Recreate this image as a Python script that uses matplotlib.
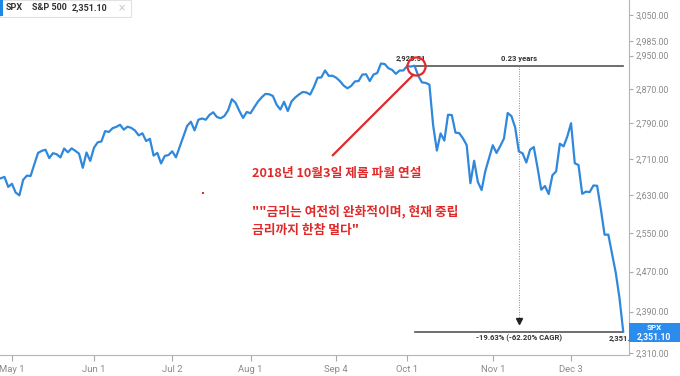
import matplotlib
matplotlib.use("Agg")
import matplotlib.pyplot as plt
import matplotlib.patches as mpatches
import pandas as pd
import numpy as np

# ---- data: S&P 500 daily closes (Apr 26 - Dec 24, 2018) ----
closes = [
    2666.94, 2669.91, 2648.05,
    # May
    2654.80, 2635.67, 2629.73, 2663.42, 2672.63, 2671.92, 2697.79, 2723.07, 2727.72,
    2730.13, 2711.45, 2722.46, 2720.13, 2712.97, 2733.01, 2724.44, 2733.29, 2727.76,
    2721.33, 2689.86, 2724.01, 2705.27,
    # Jun
    2734.62, 2746.87, 2748.80, 2772.35, 2770.37, 2779.03, 2782.00, 2786.85, 2775.63,
    2782.49, 2779.66, 2773.75, 2762.59, 2767.32, 2749.76, 2754.88, 2717.07, 2723.06,
    2699.63, 2716.31, 2718.37,
    # Jul
    2726.71, 2713.22, 2736.61, 2759.82, 2784.17, 2793.84, 2774.02, 2798.29, 2801.31,
    2798.43, 2809.55, 2815.62, 2804.49, 2801.83, 2806.98, 2820.40, 2846.07, 2837.44,
    2818.82, 2802.60, 2816.29,
    # Aug
    2813.36, 2827.22, 2840.35, 2850.40, 2858.45, 2857.70, 2853.58, 2833.28, 2821.93,
    2839.96, 2818.37, 2840.69, 2850.13, 2857.05, 2862.96, 2861.82, 2856.98, 2874.69,
    2896.74, 2897.52, 2914.04, 2901.13, 2901.52,
    # Sep
    2896.72, 2888.60, 2878.05, 2871.68, 2877.13, 2887.89, 2888.92, 2904.18, 2904.98,
    2888.80, 2904.31, 2907.95, 2930.75, 2929.67, 2919.37, 2915.56, 2905.97, 2914.00,
    2913.98,
    # Oct
    2924.59, 2923.43, 2925.51, 2901.61, 2885.57, 2884.43, 2880.34, 2785.68, 2728.37,
    2767.13, 2750.79, 2809.92, 2809.21, 2768.78, 2767.78, 2755.88, 2740.69, 2656.10,
    2705.57, 2658.69, 2641.25, 2682.63, 2711.74,
    # Nov
    2740.37, 2723.06, 2738.31, 2755.45, 2813.89, 2806.83, 2781.01, 2726.22, 2722.18,
    2701.58, 2730.20, 2736.27, 2690.73, 2641.89, 2649.93, 2632.56, 2673.45, 2682.17,
    2743.79, 2737.80, 2760.17,
    # Dec
    2790.37, 2700.06, 2695.95, 2633.08, 2637.72, 2636.78, 2651.07, 2650.54, 2599.95,
    2545.94, 2546.16, 2506.96, 2467.42, 2416.62, 2351.10,
]
holidays = ["2018-05-28", "2018-07-04", "2018-09-03", "2018-11-22", "2018-12-05"]
dates = [d for d in pd.bdate_range("2018-04-26", "2018-12-24") if d.strftime("%Y-%m-%d") not in holidays]
assert len(dates) == len(closes)

xtick_dates = ["2018-05-01", "2018-06-01", "2018-07-02", "2018-08-01",
               "2018-09-04", "2018-10-01", "2018-11-01", "2018-12-03"]
xtick_labels = ["May 1", "Jun 1", "Jul 2", "Aug 1", "Sep 4", "Oct 1", "Nov 1", "Dec 3"]
ytick_values = [3050, 2985, 2950, 2870, 2790, 2710, 2630, 2550, 2470, 2390, 2310]

peak_date = "2018-10-03"
peak_value = 2925.51
last_value = closes[-1]

date_str = [d.strftime("%Y-%m-%d") for d in dates]
x = np.arange(len(closes))
peak_i = date_str.index(peak_date)
last_i = len(closes) - 1

W, H = 680, 376
fig = plt.figure(figsize=(W / 100, H / 100), dpi=100)
ax = fig.add_axes([0, 1 - 355 / H, 629 / W, 355 / H])

blue = "#3088dc"
ax.plot(x, closes, color=blue, lw=1.6, zorder=3)

ax.set_yscale("log")
ax.set_ylim(2306.2, 3087.9)
ax.set_xlim(-0.21, 168.55)
ax.minorticks_off()
ax.yaxis.tick_right()
ax.set_yticks(ytick_values)
ax.set_yticklabels([f"{v:,.2f}" for v in ytick_values])
ax.set_xticks([date_str.index(d) for d in xtick_dates])
ax.set_xticklabels(xtick_labels)
ax.minorticks_off()
ax.tick_params(axis="y", which="both", length=3, color="#aaaaaa", labelcolor="#8a8a8a",
               labelsize=6.3, pad=2)
ax.tick_params(axis="x", length=4, color="#aaaaaa", labelcolor="#8a8a8a", labelsize=6.8, pad=3)
for lab in ax.get_xticklabels() + ax.get_yticklabels():
    lab.set_fontfamily("Roboto")
for s in ["top", "left"]:
    ax.spines[s].set_visible(False)
for s in ["right", "bottom"]:
    ax.spines[s].set_color("#b5b5b5")
    ax.spines[s].set_linewidth(0.8)

# measurement lines
gray = "#555555"
ax.plot([peak_i, last_i], [peak_value, peak_value], color=gray, lw=1.2, zorder=2)
ax.plot([peak_i, last_i], [last_value, last_value], color=gray, lw=1.2, zorder=2)
mid = (peak_i + last_i) / 2
ax.plot([mid, mid], [peak_value, last_value * 1.006], color="#888888", lw=0.7, ls=(0, (1, 1.5)), zorder=2)
ax.plot(mid, last_value * 1.009, marker="v", color="#222222", ms=4.5, zorder=4)

lbl = dict(fontsize=5.5, fontweight="bold", color="#333333", family="Roboto")
ax.text(peak_i - 1, peak_value * 1.003, f"{peak_value:,.2f}", ha="center", va="bottom", **lbl)
ax.text(mid, peak_value * 1.003, "0.23 years", ha="center", va="bottom", **lbl)
ax.text(mid, last_value * 0.9975, "-19.63% (-62.20% CAGR)", ha="center", va="top", **lbl)
ax.text(last_i + 2, last_value * 0.9975, "2,351.", ha="right", va="top", **lbl)

# red annotation
red = "#e02a2a"
ax.plot(peak_i + 0.5, peak_value * 0.9995, marker="o", ms=13, mfc="none", mec=red, mew=1.6, zorder=5)
ax.plot([89.1, 110.6], [2718, 2903], color=red, lw=1.6, zorder=5)
ax.plot(54.3, 2634, marker="s", ms=1.6, color=red, mew=0, zorder=5)

def ftext(px, py, s, **kw):
    fig.text(px / W, 1 - py / H, s, **kw)

kr = ["Noto Sans CJK KR", "DejaVu Sans"]
rt = dict(color=red, fontsize=9.2, fontweight="bold", family=kr, va="center", ha="left")
ftext(252, 173, "2018년 10월3일 제롬 파월 연설", **rt)
ftext(252, 212, "\"\"금리는 여전히 완화적이며, 현재 중립", **rt)
ftext(252, 230.5, "금리까지 한참 멀다\"", **rt)

# legend box top-left
fig.patches.append(mpatches.Rectangle((0, 1 - 17 / H), 131 / W, 17 / H, transform=fig.transFigure,
                                      facecolor="white", edgecolor="#e2e2e2", lw=0.8, zorder=10))
fig.patches.append(mpatches.Rectangle((0, 1 - 16 / H), 2.5 / W, 16 / H, transform=fig.transFigure,
                                      facecolor="#1e88e5", edgecolor="none", zorder=11))
lg = dict(fontsize=6.5, fontweight="bold", color="#333333", family="Roboto", va="center", zorder=12)
ftext(6, 8, "SPX", **lg)
ftext(32, 8, "S&P 500", **lg)
ftext(72, 8, "2,351.10", **lg)
ftext(118, 8, "×", fontsize=7, color="#c0c0c0", family="DejaVu Sans", va="center", zorder=12)

# price tag at right
fig.patches.append(mpatches.Rectangle((629 / W, 1 - 342 / H), 51 / W, 19 / H, transform=fig.transFigure,
                                      facecolor="#2b8cee", edgecolor="none", zorder=10))
ftext(654, 328, "SPX", fontsize=5.8, fontweight="bold", color="white", family="Roboto",
      ha="center", va="center", zorder=12)
ftext(654, 337, "2,351.10", fontsize=6.2, fontweight="bold", color="white", family="Roboto",
      ha="center", va="center", zorder=12)

fig.savefig("out.png", dpi=100, facecolor="white")
